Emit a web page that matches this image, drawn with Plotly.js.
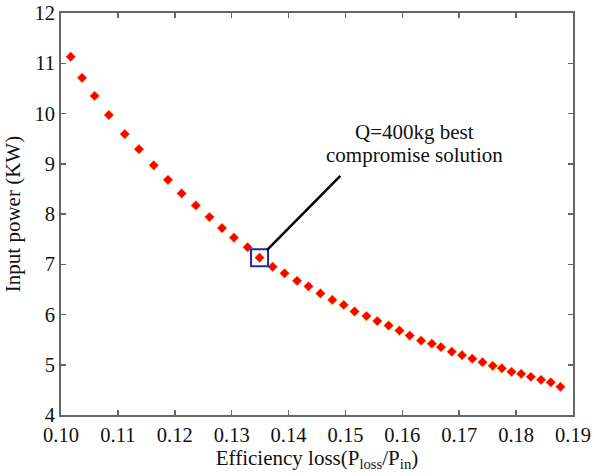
<!DOCTYPE html>
<html>
<head>
<meta charset="utf-8">
<script src="https://cdn.plot.ly/plotly-3.0.1.min.js"></script>
<style>html,body{margin:0;padding:0;background:#fff;}#chart{width:594px;height:476px;}</style>
</head>
<body>
<div id="chart"></div>
<script>
const efficiencyLoss = [0.1017,0.1037,0.1059,0.1084,0.1112,0.1137,0.1163,0.1188,0.1212,0.1237,
  0.1261,0.1283,0.1304,0.1328,0.1349,0.1372,0.1393,0.1415,0.1435,0.1456,
  0.1477,0.1497,0.1516,0.1537,0.1556,0.1576,0.1595,0.1613,0.1633,0.1652,
  0.1668,0.1687,0.1705,0.1723,0.1741,0.1759,0.1775,0.1792,0.1809,0.1826,
  0.1844,0.1861,0.1878];
const inputPower = [11.13,10.71,10.35,9.97,9.59,9.29,8.97,8.68,8.41,8.17,
  7.94,7.72,7.53,7.34,7.13,6.95,6.82,6.67,6.56,6.42,
  6.29,6.19,6.06,5.97,5.87,5.78,5.68,5.58,5.48,5.42,
  5.35,5.26,5.19,5.12,5.05,4.98,4.93,4.86,4.82,4.76,
  4.70,4.65,4.56];
const bestIndex = 14;
const xTickVals = [0.10,0.11,0.12,0.13,0.14,0.15,0.16,0.17,0.18,0.19];
const xTickText = ["0.10","0.11","0.12","0.13","0.14","0.15","0.16","0.17","0.18","0.19"];
const yTickVals = [4,5,6,7,8,9,10,11,12];
const annotLines = ["Q=400kg best","compromise solution"];
const leaderLine = {x0:0.1362, y0:7.28, x1:0.1491, y1:8.76};
const annotPos = {x:0.1621, y1:9.64, y2:9.17};

const font = "Liberation Serif, Times New Roman, serif";
const traces = [
  {x: efficiencyLoss, y: inputPower, type: 'scatter', mode: 'markers',
   marker: {symbol: 'diamond', size: 7.5, color: '#ff0000', line: {width: 0.6, color: '#e8a000'}},
   hoverinfo: 'x+y'},
  {x: [efficiencyLoss[bestIndex]], y: [inputPower[bestIndex]], type: 'scatter', mode: 'markers',
   marker: {symbol: 'square-open', size: 17, color: '#1c2aa8', line: {width: 2, color: '#1c2aa8'}}}
];
const axisCommon = {
  showline: true, mirror: 'ticks', linecolor: '#666', linewidth: 2,
  ticks: 'inside', ticklen: 5, tickwidth: 1.5, tickcolor: '#666',
  showgrid: false, zeroline: false,
  tickfont: {family: font, size: 20.5, color: '#111'}
};
const layout = {
  width: 594, height: 476,
  margin: {l: 61, r: 21, t: 13, b: 61},
  paper_bgcolor: '#fff', plot_bgcolor: '#fff',
  showlegend: false,
  font: {family: font, color: '#111'},
  xaxis: Object.assign({}, axisCommon, {
    range: [0.09999, 0.19001], tickvals: xTickVals, ticktext: xTickText, ticklabelstandoff: 0,
    title: {text: 'Efficiency loss(P<sub>loss</sub>/P<sub>in</sub>)', font: {family: font, size: 21, color: '#111'}, standoff: 2}
  }),
  yaxis: Object.assign({}, axisCommon, {
    range: [4, 12], tickvals: yTickVals,
    title: {text: 'Input power (KW)', font: {family: font, size: 21, color: '#111'}, standoff: 8}
  }),
  shapes: [{type: 'line', xref: 'x', yref: 'y', x0: leaderLine.x0, y0: leaderLine.y0, x1: leaderLine.x1, y1: leaderLine.y1,
            line: {color: '#000', width: 2.5}}],
  annotations: [
    {x: annotPos.x, y: annotPos.y1, xref: 'x', yref: 'y', text: annotLines[0], showarrow: false,
     xanchor: 'center', yanchor: 'middle', font: {family: font, size: 21, color: '#111'}},
    {x: annotPos.x, y: annotPos.y2, xref: 'x', yref: 'y', text: annotLines[1], showarrow: false,
     xanchor: 'center', yanchor: 'middle', font: {family: font, size: 21, color: '#111'}}
  ]
};
Plotly.newPlot('chart', traces, layout, {displayModeBar: false, staticPlot: true});
</script>
</body>
</html>
